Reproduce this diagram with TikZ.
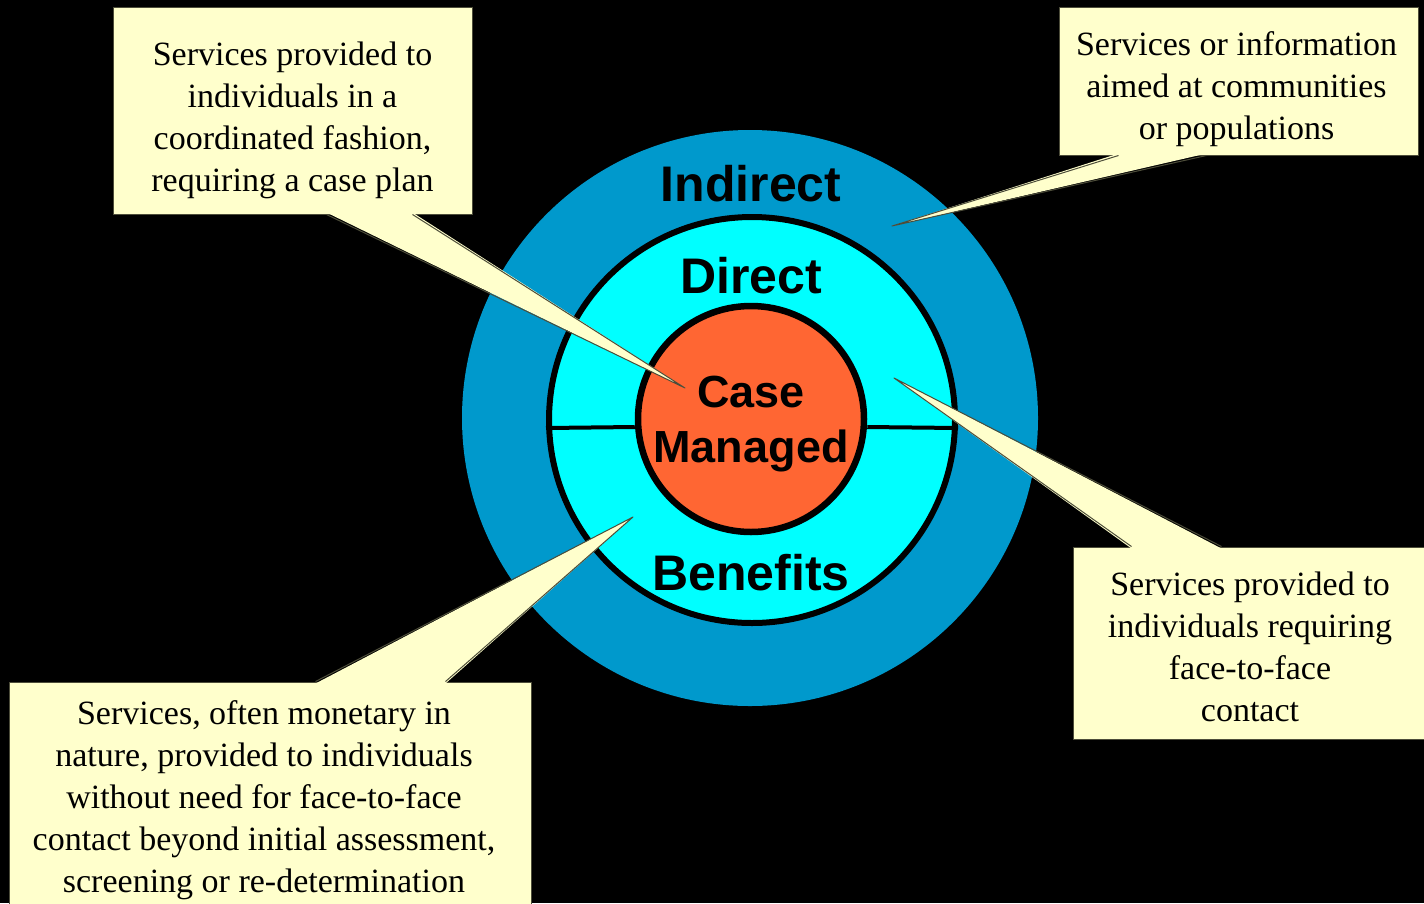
\documentclass[tikz,border=0pt]{standalone}
\usepackage{fontspec}
\setmainfont{Liberation Serif}
\newfontfamily\ringfont{Liberation Sans}
\usetikzlibrary{calc}
\definecolor{indirectblue}{HTML}{0099CC}
\definecolor{directcyan}{HTML}{00FFFF}
\definecolor{caseorange}{HTML}{FF6633}
\definecolor{noteyellow}{HTML}{FFFFCC}
\definecolor{noteedge}{HTML}{4D4D3A}

\begin{document}
\begin{tikzpicture}[x=1pt, y=-1pt,
    ring/.style={circle, inner sep=0pt},
    ringlabel/.style={font=\ringfont\bfseries\fontsize{50}{55}\selectfont, anchor=base, inner sep=0pt},
    callout/.style={rectangle, fill=noteyellow, draw=noteedge, line width=1pt, inner sep=0pt},
    pointer/.style={fill=noteyellow},
    pointeredge/.style={draw=noteedge, line width=1pt, line join=round},
    note/.style={font=\fontsize{34}{42}\selectfont, align=center, anchor=north, inner sep=0pt}
]
    % Background
    \path[use as bounding box, fill=black] (0,0) rectangle (1424,903);

    % Rings
    \node[ring, fill=indirectblue, minimum size=576pt] (outer) at (750,418) {};
    \node[ring, fill=directcyan, draw=black, line width=6pt, minimum size=406pt] (mid) at (752,420) {};
    \node[ring, fill=caseorange, draw=black, line width=6.5pt, minimum size=226pt] (core) at (751,419) {};

    % Split between direct and benefits
    \draw[line width=4pt] ($(mid.west)+(0,8)$) -- ($(core.west)+(0,8)$);
    \draw[line width=4pt] ($(core.east)+(0,8)$) -- ($(mid.east)+(0,8)$);

    % Ring labels
    \node[ringlabel] (indirect) at (751,201) {Indirect};
    \node[ringlabel] (direct) at (751,293) {Direct};
    \node[ringlabel] (benefits) at (751,590) {Benefits};
    \node[ringlabel, font=\ringfont\bfseries\fontsize{45}{55}\selectfont, anchor=north, align=center] (casemgd) at (751,376) {Case\\Managed};

    % Pointer tips
    \coordinate (tipA) at (685,388);
    \coordinate (tipB) at (892,226);
    \coordinate (tipC) at (894,378);
    \coordinate (tipD) at (633,517);

    % Callout boxes
    \node[callout, minimum width=359pt, minimum height=207pt] (boxA) at (292.5,110.5) {};
    \node[callout, minimum width=359pt, minimum height=148pt] (boxB) at (1238.5,81) {};
    \node[callout, minimum width=357pt, minimum height=192pt] (boxC) at (1251.5,643) {};
    \node[callout, minimum width=522pt, minimum height=228pt] (boxD) at (270,796) {};

    % Pointers
    \fill[pointer] ($(boxA.south west)+(214,-2)$) -- (tipA) -- ($(boxA.south west)+(300,-2)$) -- cycle;
    \draw[pointeredge] ($(boxA.south west)+(214,0)$) -- (tipA) -- ($(boxA.south west)+(300,0)$);
    \fill[pointer] ($(boxB.south west)+(60,-2)$) -- (tipB) -- ($(boxB.south west)+(148,-2)$) -- cycle;
    \draw[pointeredge] ($(boxB.south west)+(60,0)$) -- (tipB) -- ($(boxB.south west)+(148,0)$);
    \fill[pointer] ($(boxC.north west)+(59,2)$) -- (tipC) -- ($(boxC.north west)+(149,2)$) -- cycle;
    \draw[pointeredge] ($(boxC.north west)+(59,0)$) -- (tipC) -- ($(boxC.north west)+(149,0)$);
    \fill[pointer] ($(boxD.north west)+(307,2)$) -- (tipD) -- ($(boxD.north west)+(437,2)$) -- cycle;
    \draw[pointeredge] ($(boxD.north west)+(307,0)$) -- (tipD) -- ($(boxD.north west)+(437,0)$);

    % Callout texts
    \node[note] (noteA) at ($(boxA.north)+(0,35)$) {Services provided to\\individuals in a\\coordinated fashion,\\requiring a case plan};
    \node[note] (noteB) at ($(boxB.north)+(-2,25)$) {Services or information\\aimed at communities\\or populations};
    \node[note] (noteC) at ($(boxC.north)+(-1.5,25)$) {Services provided to\\individuals requiring\\face-to-face\\contact};
    \node[note] (noteD) at ($(boxD.north)+(-6,19)$) {Services, often monetary in\\nature, provided to individuals\\without need for face-to-face\\contact beyond initial assessment,\\screening or re-determination};
\end{tikzpicture}
\end{document}
